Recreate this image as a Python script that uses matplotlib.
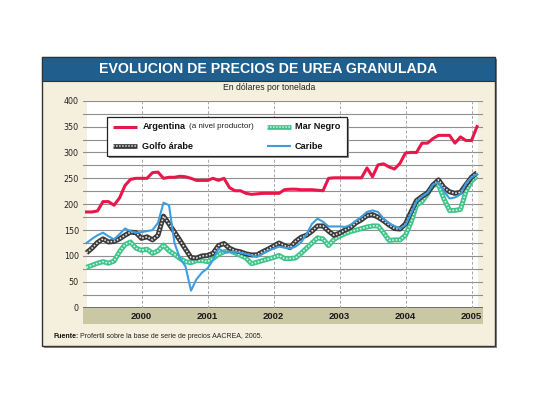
import numpy as np
import matplotlib
matplotlib.use("Agg")
import matplotlib.pyplot as plt
from matplotlib.patches import Rectangle
from matplotlib.lines import Line2D

# monthly prices, U$S/t, March 1999 .. February 2005
start_year = 1999
start_month = 3

argentina = [185, 185, 187, 205, 205, 198, 212, 236, 248, 250,
             250, 250, 261, 262, 250, 252, 252, 254, 253, 250,
             246, 246, 246, 250, 246, 250, 232, 226, 226, 221,
             219, 220, 221, 221, 221, 221, 228, 229, 229, 228,
             228, 228, 227, 226, 250, 251, 251, 251, 251, 251,
             251, 270, 253, 276, 278, 272, 268, 279, 299, 300,
             300, 318, 318, 327, 333, 333, 333, 318, 330, 323,
             323, 350]

golfo = [106, 115, 126, 133, 127, 128, 133, 140, 146, 145,
         134, 137, 131, 140, 177, 162, 146, 130, 113, 97,
         96, 100, 101, 105, 120, 124, 115, 110, 108, 104,
         102, 102, 108, 113, 119, 125, 120, 116, 128, 136,
         140, 148, 158, 158, 148, 140, 144, 150, 155, 164,
         170, 178, 180, 175, 168, 160, 153, 152, 162, 185,
         207, 215, 222, 237, 247, 232, 224, 221, 223, 238,
         252, 261]

mar_negro = [78, 82, 86, 89, 86, 90, 108, 122, 127, 115,
             111, 113, 105, 110, 121, 110, 103, 95, 89, 87,
             91, 91, 89, 95, 103, 108, 110, 106, 101, 96,
             85, 88, 91, 94, 97, 101, 95, 95, 96, 105,
             115, 125, 135, 133, 120, 132, 138, 143, 147, 150,
             153, 156, 158, 158, 145, 130, 131, 131, 140, 165,
             198, 205, 220, 237, 238, 210, 188, 188, 190, 225,
             245, 254]

caribe = [125, 133, 140, 145, 138, 132, 142, 153, 148, 145,
          146, 148, 150, 164, 203, 198, 125, 95, 80, 33,
          55, 68, 76, 92, 114, 108, 108, 108, 106, 104,
          101, 98, 104, 110, 114, 118, 116, 114, 118, 126,
          142, 162, 172, 166, 157, 157, 157, 156, 160, 168,
          176, 185, 188, 185, 172, 163, 158, 153, 160, 182,
          205, 215, 222, 238, 242, 225, 211, 213, 219, 240,
          252, 258]

years = [2000, 2001, 2002, 2003, 2004, 2005]
y_ticks = [0, 50, 100, 150, 200, 250, 300, 350, 400]

t = start_year + (start_month - 1) / 12 + np.arange(len(argentina)) / 12

W, H = 540, 405


def fx(px):
    return px / W


def fy(py):
    return 1 - py / H


beige = "#f4f0dd"
red = "#e8174b"
blue = "#3d9de0"
green = "#3cc48a"
dark = "#3a3a3a"

fig = plt.figure(figsize=(5.4, 4.05), dpi=100)
fig.patch.set_facecolor("white")

# outer frame + shadow
fig.add_artist(Rectangle((fx(44), fy(348)), fx(495) - fx(42), fy(57) - fy(346),
                         facecolor="#8a8a8a", edgecolor="none", zorder=-3))
fig.add_artist(Rectangle((fx(42), fy(346)), fx(495) - fx(42), fy(57) - fy(346),
                         facecolor=beige, edgecolor="#333333", lw=1.0, zorder=-2))
fig.add_artist(Rectangle((fx(42), fy(80.5)), fx(495) - fx(42), fy(57) - fy(80.5),
                         facecolor="#1f5e8d", edgecolor="#333333", lw=0.8, zorder=-1))
fig.text(fx(268.5), fy(69), "EVOLUCION DE PRECIOS DE UREA GRANULADA", color="white",
         fontsize=10.2, fontweight="bold", family="Liberation Sans",
         ha="center", va="center")
fig.text(fx(269), fy(88), "En dólares por tonelada", color="#222222",
         fontsize=6.2, family="Liberation Sans", ha="center", va="center")

# plot area
ax = fig.add_axes([fx(83), fy(307.7), fx(483) - fx(83), (307.7 - 100.7) / H])
ax.set_facecolor("none")
ax.set_xlim(2000 - (141.5 - 83) / 66, 2000 + (483 - 141.5) / 66)
ax.set_ylim(0, 400)
for s in ax.spines.values():
    s.set_visible(False)
ax.add_patch(Rectangle((4 / 400, 0), (478 - 87) / 400, 1, transform=ax.transAxes,
                       facecolor="white", edgecolor="none", zorder=0))
for v in range(25, 401, 25):
    ax.axhline(v, color="#8f8f8f", lw=0.8, zorder=1)
ax.axhline(0, color="#555555", lw=1.2, zorder=1)
for yr in years:
    ax.axvline(yr, color="#a8a8a8", lw=0.7, ls=(0, (3, 2)), zorder=1)

ax.set_yticks(y_ticks)
ax.set_yticklabels([str(v) for v in y_ticks], fontsize=5.8, color="#222222")
ax.tick_params(axis="y", length=0, pad=3)
ax.set_xticks([])

# band under axis
ax.add_patch(Rectangle((0, -16.5 / 207), 1, 16.5 / 207, transform=ax.transAxes,
                       facecolor="#c9c7a4", edgecolor="none", clip_on=False, zorder=0))
for yr in years:
    ax.text(yr, -8.5 / 207, str(yr), transform=ax.get_xaxis_transform(),
            ha="center", va="center", fontsize=6.8, fontweight="bold",
            family="Liberation Sans", color="#1a1a1a")

# series
ax.plot(t, mar_negro, color=green, lw=3.6, zorder=3, solid_capstyle="butt")
ax.plot(t, mar_negro, color="#d8f6e6", lw=1.2, ls=(0, (1, 1)), zorder=3.1)
ax.plot(t, golfo, color=dark, lw=3.6, zorder=4, solid_capstyle="butt")
ax.plot(t, golfo, color="#e2e2e2", lw=1.2, ls=(0, (1, 1)), zorder=4.1)
ax.plot(t, caribe, color=blue, lw=1.5, zorder=5)
ax.plot(t, argentina, color=red, lw=2.2, zorder=6)

# legend
lx0, ly0, lx1, ly1 = 107.3, 117.3, 346.7, 155.7
fig.add_artist(Rectangle((fx(lx0 + 2), fy(ly1 + 2)), fx(lx1) - fx(lx0), fy(ly0) - fy(ly1),
                         facecolor="#8a8a8a", edgecolor="none", zorder=5))
fig.add_artist(Rectangle((fx(lx0), fy(ly1)), fx(lx1) - fx(lx0), fy(ly0) - fy(ly1),
                         facecolor="white", edgecolor="#222222", lw=0.9, zorder=5.1))


def handle(x0, x1, y, color, lw, inner=None):
    fig.add_artist(Line2D([fx(x0), fx(x1)], [fy(y), fy(y)], color=color, lw=lw,
                          solid_capstyle="butt", zorder=6))
    if inner:
        fig.add_artist(Line2D([fx(x0), fx(x1)], [fy(y), fy(y)], color=inner, lw=1.1,
                              ls=(0, (1, 1)), zorder=6.1))


r1, r2 = 126.7, 146.3
handle(113, 137, r1, red, 2.2)
handle(113, 137, r2, dark, 3.4, "#e2e2e2")
handle(267, 291, r1, green, 3.4, "#d8f6e6")
handle(267, 291, r2, blue, 1.5)

lab = dict(fontsize=6.6, fontweight="bold", family="Liberation Sans", va="center",
           ha="left", color="#111111", zorder=7)
fig.text(fx(142.3), fy(r1), "Argentina", **lab)
fig.text(fx(189.3), fy(r1), "(a nivel productor)", fontsize=5.8, family="Liberation Sans",
         va="center", ha="left", color="#222222", zorder=7)
fig.text(fx(142.3), fy(r2), "Golfo árabe", **lab)
fig.text(fx(295), fy(r1), "Mar Negro", **lab)
fig.text(fx(295), fy(r2), "Caribe", **lab)

# source: place the plain part right after the bold word
src_bold = fig.text(fx(53), fy(336), "Fuente:", fontsize=5.0, fontweight="bold",
                    family="Liberation Sans", va="center", ha="left", color="#111111")
fig.canvas.draw()
bb = src_bold.get_window_extent(renderer=fig.canvas.get_renderer())
fig.text(bb.x1 / W + fx(2), fy(336),
         "Profertil sobre la base de serie de precios AACREA, 2005.",
         fontsize=5.0, family="Liberation Sans", va="center", ha="left", color="#222222")

fig.savefig("out.png", dpi=100)
